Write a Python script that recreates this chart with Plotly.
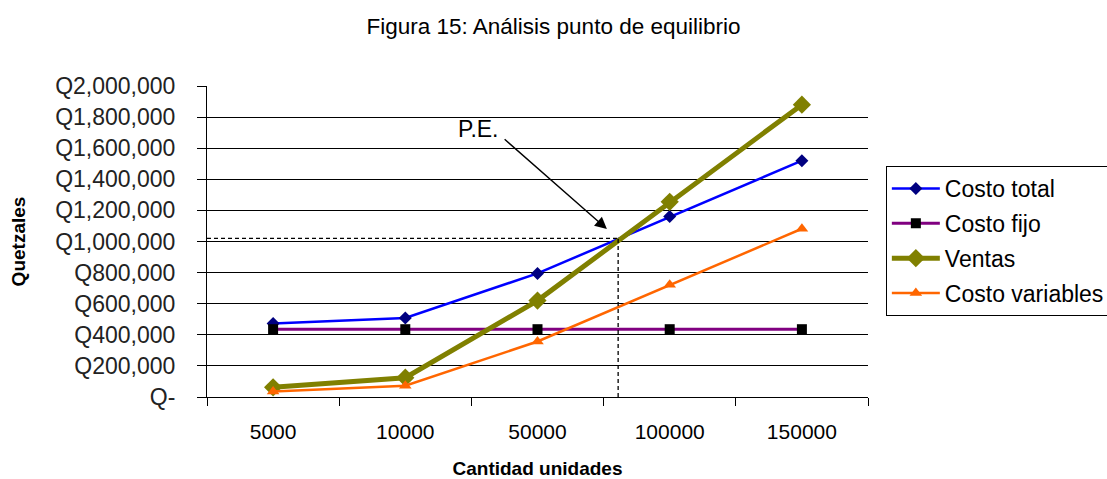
import plotly.graph_objects as go

categories = ["5000", "10000", "50000", "100000", "150000"]
costo_total = [472000, 508000, 795000, 1160000, 1520000]
costo_fijo = [436000, 436000, 436000, 436000, 436000]
ventas = [62000, 124000, 620000, 1255000, 1880000]
costo_variables = [36000, 72000, 357000, 722000, 1082000]

y_tickvals = [0, 200000, 400000, 600000, 800000, 1000000, 1200000, 1400000, 1600000, 1800000, 2000000]
y_ticktext = ["Q-", "Q200,000", "Q400,000", "Q600,000", "Q800,000", "Q1,000,000",
              "Q1,200,000", "Q1,400,000", "Q1,600,000", "Q1,800,000", "Q2,000,000"]
grid_vals = y_tickvals[1:-1]

# break-even point (category index position, value)
pe_x = 2.61
pe_y = 1020000
arrow_tail = (1.74, 1666000)
arrow_head = (2.525, 1080000)

FONT = "Liberation Sans, Arial, sans-serif"

fig = go.Figure()
# invisible helper so the grid axis is drawn
fig.add_trace(go.Scatter(x=[categories[0]], y=[None], yaxis="y2", showlegend=False,
                         hoverinfo="skip", mode="lines"))
fig.add_trace(go.Scatter(x=categories, y=costo_total, name="Costo total", mode="lines+markers",
                         legendgroup="a",
                         line=dict(color="#0000FF", width=2.5),
                         marker=dict(symbol="diamond", size=10, color="#000080")))
fig.add_trace(go.Scatter(x=categories, y=costo_fijo, name="Costo fijo", mode="lines+markers",
                         legendgroup="b",
                         line=dict(color="#800080", width=3),
                         marker=dict(symbol="square", size=10, color="#000000")))
fig.add_trace(go.Scatter(x=categories, y=ventas, name="Ventas", mode="lines+markers",
                         legendgroup="c",
                         line=dict(color="#808000", width=5),
                         marker=dict(symbol="diamond", size=14, color="#808000")))
fig.add_trace(go.Scatter(x=categories, y=costo_variables, name="Costo variables", mode="lines+markers",
                         legendgroup="d",
                         line=dict(color="#FF6600", width=2.5),
                         marker=dict(symbol="triangle-up", size=11, color="#FF6600")))

fig.add_shape(type="line", xref="x", yref="y", x0=-0.5, x1=pe_x, y0=pe_y, y1=pe_y,
              line=dict(color="black", width=1.3, dash="4px,3px"))
fig.add_shape(type="line", xref="x", yref="y", x0=pe_x, x1=pe_x, y0=0, y1=pe_y,
              line=dict(color="black", width=1.3, dash="4px,3px"))

fig.add_annotation(x=arrow_head[0], y=arrow_head[1], ax=arrow_tail[0], ay=arrow_tail[1],
                   xref="x", yref="y", axref="x", ayref="y", text="", showarrow=True,
                   arrowhead=2, arrowsize=1.7, arrowwidth=1.4, arrowcolor="black")
fig.add_annotation(x=arrow_tail[0], y=arrow_tail[1], xref="x", yref="y", text="P.E.",
                   showarrow=False, xanchor="right", yanchor="bottom", xshift=-2, yshift=-6,
                   font=dict(family=FONT, size=23, color="black"))

fig.update_layout(
    width=1107, height=479,
    margin=dict(l=207, r=239, t=86, b=82, autoexpand=False),
    paper_bgcolor="white", plot_bgcolor="white",
    title=dict(text="Figura 15: Análisis punto de equilibrio", x=0.5, xref="container",
               y=1 - 26 / 479, yref="container", xanchor="center", yanchor="middle",
               font=dict(family=FONT, size=22.5, color="black")),
    showlegend=True,
    legend=dict(x=1.027, y=0.743, xanchor="left", yanchor="top",
                bordercolor="black", borderwidth=1, bgcolor="white",
                font=dict(family=FONT, size=23, color="black"),
                itemwidth=48, tracegroupgap=2),
    xaxis=dict(type="category", range=[-0.5, 4.5], tickson="boundaries",
               ticks="outside", ticklen=8, tickcolor="black", tickwidth=1,
               showline=True, linecolor="black", linewidth=1, showgrid=False,
               tickfont=dict(family=FONT, size=21, color="black"),
               ticklabelstandoff=16,
               title=dict(text="<b>Cantidad unidades</b>", standoff=19,
                          font=dict(family=FONT, size=19, color="black"))),
    yaxis=dict(range=[0, 2000000], tickvals=y_tickvals, ticktext=y_ticktext,
               ticks="outside", ticklen=9, tickcolor="black", tickwidth=1,
               showline=True, linecolor="black", linewidth=1, showgrid=False,
               zeroline=False,
               tickfont=dict(family=FONT, size=23, color="#222222"),
               ticklabelstandoff=17,
               title=dict(text="<b>Quetzales</b>", standoff=24,
                          font=dict(family=FONT, size=19, color="black"))),
    yaxis2=dict(range=[0, 2000000], overlaying="y", anchor="x", side="left",
                tickvals=grid_vals, showticklabels=False, ticks="",
                showgrid=True, gridcolor="black", gridwidth=1, zeroline=False,
                showline=False),
)

fig.write_html("out.html")
